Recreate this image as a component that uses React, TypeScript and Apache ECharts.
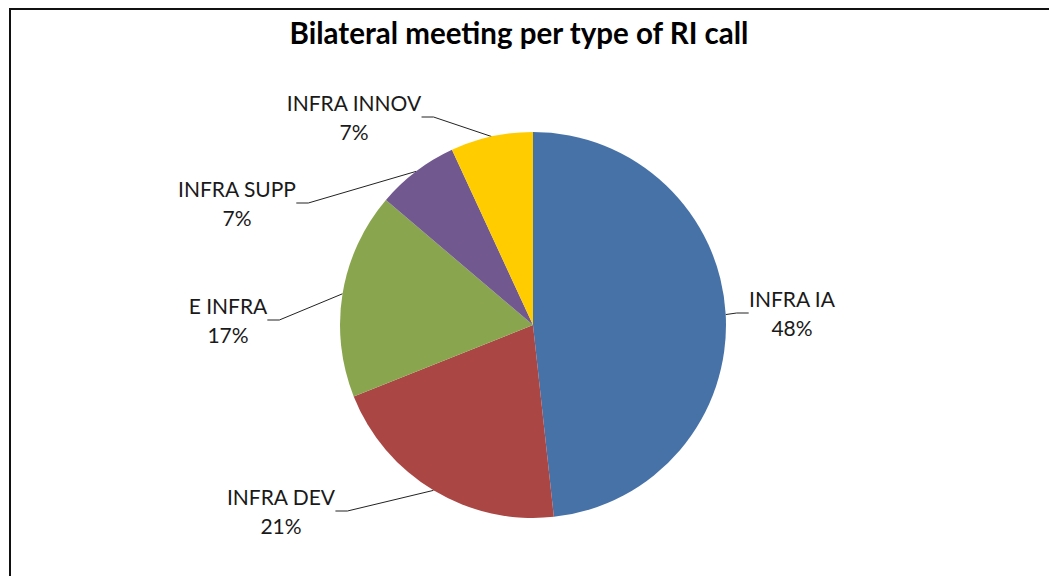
import React, { useEffect, useRef } from "react";
import * as echarts from "echarts";

const titleText = "Bilateral meeting per type of RI call";
const categories = ["INFRA IA", "INFRA DEV", "E INFRA", "INFRA SUPP", "INFRA INNOV"];
const meetings = [14, 6, 5, 2, 2];
const colors = ["#4672A8", "#AA4643", "#89A54E", "#71588F", "#FFCC00"];
// label block centres (layout only)
const labelCentres = [
  [792, 313],
  [281, 511],
  [228, 320],
  [237, 203],
  [354, 117],
];

export default function App() {
  const ref = useRef<HTMLDivElement>(null);
  useEffect(() => {
    document.body.style.margin = "0";
    const chart = echarts.init(ref.current!, null, { renderer: "svg" });
    const font = "Lato, 'Open Sans', sans-serif";
    chart.setOption({
      animation: false,
      backgroundColor: "#ffffff",
      graphic: [
        {
          type: "rect",
          shape: { x: 10, y: 9, width: 1200, height: 800 },
          style: { fill: "none", stroke: "#111", lineWidth: 2 },
          z: 100,
        },
        {
          type: "text",
          x: 519,
          y: 32,
          style: {
            text: titleText,
            textAlign: "center",
            textVerticalAlign: "middle",
            font: `bold 29.5px ${font}`,
            fill: "#000",
          },
        },
      ],
      series: [
        {
          type: "pie",
          center: [533, 325],
          radius: 193,
          startAngle: 90,
          clockwise: true,
          data: categories.map((c, i) => ({
            name: c,
            value: meetings[i],
            itemStyle: { color: colors[i] },
          })),
          itemStyle: { borderWidth: 0 },
          label: {
            show: true,
            position: "outside",
            formatter: (p: any) => `${p.name}\n${Math.round(p.percent)}%`,
            fontFamily: font,
            fontSize: 21,
            lineHeight: 29,
            color: "#1a1a1a",
            align: "center",
          },
          labelLine: {
            show: true,
            length: 15,
            length2: 12,
            lineStyle: { color: "#222", width: 1 },
          },
          labelLayout: (p: any) => {
            const c = labelCentres[p.dataIndex];
            return { x: c[0], y: c[1], align: "center", verticalAlign: "middle" };
          },
          emphasis: { disabled: true },
        },
      ],
    });
    return () => chart.dispose();
  }, []);
  return <div ref={ref} style={{ width: 1049, height: 576 }} />;
}
